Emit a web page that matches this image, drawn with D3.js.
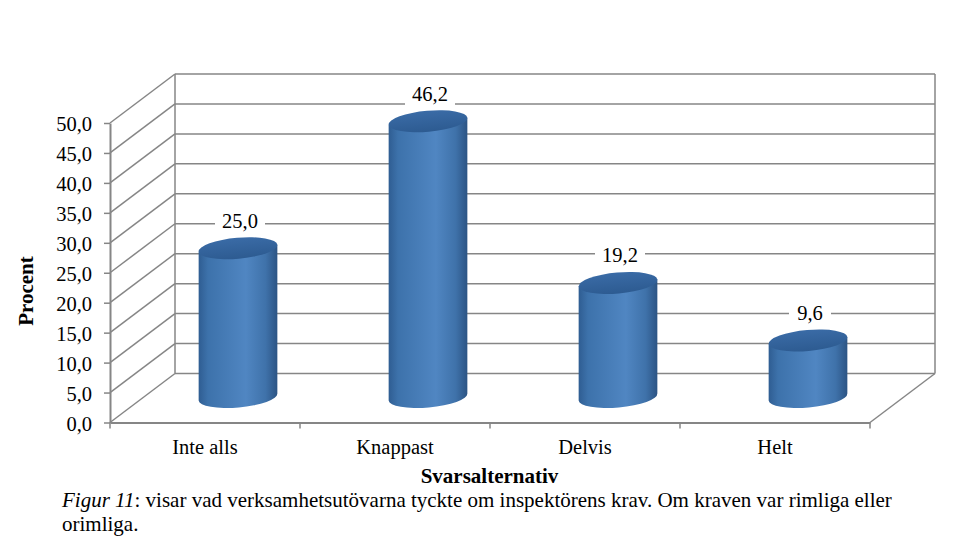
<!DOCTYPE html>
<html>
<head>
<meta charset="utf-8">
<script src="https://cdn.jsdelivr.net/npm/d3@7"></script>
<style>
  html, body { margin: 0; padding: 0; background: #fff; }
  svg { display: block; }
  text { font-family: "Liberation Serif", serif; fill: #000; }
  .rutnat { stroke: #868686; stroke-width: 1.5; fill: none; }
</style>
</head>
<body>
<svg id="grafico"></svg>
<script>
// Data
var kategorier = ['Inte alls', 'Knappast', 'Delvis', 'Helt'];
var varden = [25.0, 46.2, 19.2, 9.6];
var etiketter = ['25,0', '46,2', '19,2', '9,6'];
var yTicks = [0, 5, 10, 15, 20, 25, 30, 35, 40, 45, 50];
var bildtextKursiv = 'Figur 11';
var bildtextRad1 = ': visar vad verksamhetsutövarna tyckte om inspektörens krav. Om kraven var rimliga eller';
var bildtextRad2 = 'orimliga.';

var svg = d3.select('#grafico').attr('width', 980).attr('height', 556);

// Skalor, framkanten av 3D-lådan
var x = d3.scaleBand().domain(kategorier).range([110, 870]);
var y = d3.scaleLinear().domain([0, 50]).range([422.5, 123]);
var djupX = 65, djupY = -49;
var textStorlek = '20.5px';

// Gradienter
var defs = svg.append('defs');
var grad = defs.append('linearGradient').attr('id', 'kropp');
grad.append('stop').attr('offset', '0%').attr('stop-color', '#2f5d92');
grad.append('stop').attr('offset', '12%').attr('stop-color', '#3d72ab');
grad.append('stop').attr('offset', '60%').attr('stop-color', '#5086c2');
grad.append('stop').attr('offset', '85%').attr('stop-color', '#3f72aa');
grad.append('stop').attr('offset', '100%').attr('stop-color', '#2c5484');
var gradTopp = defs.append('linearGradient').attr('id', 'topp')
  .attr('x1', '0').attr('x2', '0').attr('y1', '0').attr('y2', '1');
gradTopp.append('stop').attr('offset', '0%').attr('stop-color', '#3a6ba6');
gradTopp.append('stop').attr('offset', '100%').attr('stop-color', '#2d5b91');

// Rutnät på bakväggen och vänsterväggen
var x0 = x.range()[0], x1 = x.range()[1];
var rutnat = svg.append('g').attr('class', 'rutnat');
rutnat.selectAll('.bak').data(yTicks).enter().append('line')
  .attr('x1', x0 + djupX).attr('x2', x1 + djupX)
  .attr('y1', d => y(d) + djupY).attr('y2', d => y(d) + djupY);
rutnat.selectAll('.sida').data(yTicks).enter().append('line')
  .attr('x1', x0).attr('x2', x0 + djupX)
  .attr('y1', d => y(d)).attr('y2', d => y(d) + djupY);
rutnat.append('line').attr('x1', x0 + djupX).attr('x2', x0 + djupX)
  .attr('y1', y(50) + djupY).attr('y2', y(0) + djupY);
rutnat.append('line').attr('x1', x1 + djupX).attr('x2', x1 + djupX)
  .attr('y1', y(50) + djupY).attr('y2', y(0) + djupY);
rutnat.append('line').attr('x1', x1).attr('x2', x1 + djupX)
  .attr('y1', y(0)).attr('y2', y(0) + djupY);

// Axlar
var yAxel = d3.axisLeft(y).tickValues(yTicks).tickSize(6).tickSizeOuter(0).tickPadding(12)
  .tickFormat(d => d3.format('.1f')(d).replace('.', ','));
var gy = svg.append('g').attr('transform', 'translate(' + x0 + ',0)').call(yAxel);
var xAxel = d3.axisBottom(x).tickSize(0).tickPadding(17);
var gx = svg.append('g').attr('transform', 'translate(0,' + y(0) + ')').call(xAxel);
// Kategoritickarna ligger mellan staplarna
gx.selectAll('.brytning').data(d3.range(kategorier.length + 1)).enter().append('line')
  .attr('x1', i => x0 + i * x.bandwidth()).attr('x2', i => x0 + i * x.bandwidth())
  .attr('y1', 0).attr('y2', 6);
svg.selectAll('.domain').attr('stroke', '#868686').attr('stroke-width', 2);
svg.selectAll('.tick line').attr('stroke', '#868686').attr('stroke-width', 1.5);
gx.selectAll('line').attr('stroke', '#868686').attr('stroke-width', 1.5);
gy.selectAll('text').style('font-size', textStorlek).attr('fill', '#000').attr('dy', '0.37em');
gx.selectAll('text').style('font-size', textStorlek).attr('fill', '#000');

// Cylindrar
var rx = 39.5, ry = 10.5, vinkel = -5;
var rad = vinkel * Math.PI / 180;
function cx(d) { return x(d) + x.bandwidth() / 2 + djupX / 2 + 0.5; }
function mitt(v) { return y(v) + djupY / 2; }
var ex = rx * Math.cos(rad), ey = rx * Math.sin(rad);

var staplar = svg.selectAll('.stapel').data(kategorier).enter().append('g').attr('class', 'stapel');
staplar.append('path')
  .attr('fill', 'url(#kropp)')
  .attr('d', function(d, i) {
    var c = cx(d), topp = mitt(varden[i]), botten = mitt(0) - 1;
    return 'M' + (c - ex) + ',' + (topp - ey) +
      'L' + (c - ex) + ',' + (botten - ey) +
      'A' + rx + ',' + ry + ' ' + vinkel + ' 0 0 ' + (c + ex) + ',' + (botten + ey) +
      'L' + (c + ex) + ',' + (topp + ey) + 'Z';
  });
staplar.append('ellipse')
  .attr('fill', 'url(#topp)')
  .attr('rx', rx).attr('ry', ry)
  .attr('transform', (d, i) => 'translate(' + cx(d) + ',' + mitt(varden[i]) + ') rotate(' + vinkel + ')');

// Värdeetiketter med vit bakgrund
var etikett = svg.selectAll('.etikett').data(kategorier).enter().append('g').attr('class', 'etikett')
  .attr('transform', (d, i) => 'translate(' + (cx(d) + 2) + ',' + (mitt(varden[i]) - 27.5) + ')');
etikett.append('rect')
  .attr('x', (d, i) => i == 3 ? -21 : -25).attr('y', -12)
  .attr('width', (d, i) => i == 3 ? 42 : 50).attr('height', 24).attr('fill', '#fff');
etikett.append('text')
  .attr('text-anchor', 'middle').attr('dy', '0.33em').style('font-size', textStorlek)
  .text((d, i) => etiketter[i]);

// Axeltitlar
svg.append('text').attr('x', 489.5).attr('y', 483).attr('text-anchor', 'middle')
  .style('font-size', '21px').style('font-weight', 'bold').text('Svarsalternativ');
svg.append('text').attr('transform', 'translate(33,291) rotate(-90)').attr('text-anchor', 'middle')
  .style('font-size', '21px').style('font-weight', 'bold').text('Procent');

// Bildtext
var rad1 = svg.append('text').attr('x', 62).attr('y', 507).style('font-size', '21px');
rad1.append('tspan').style('font-style', 'italic').text(bildtextKursiv);
rad1.append('tspan').text(bildtextRad1);
svg.append('text').attr('x', 62).attr('y', 531).style('font-size', '21px').text(bildtextRad2);
</script>
</body>
</html>
